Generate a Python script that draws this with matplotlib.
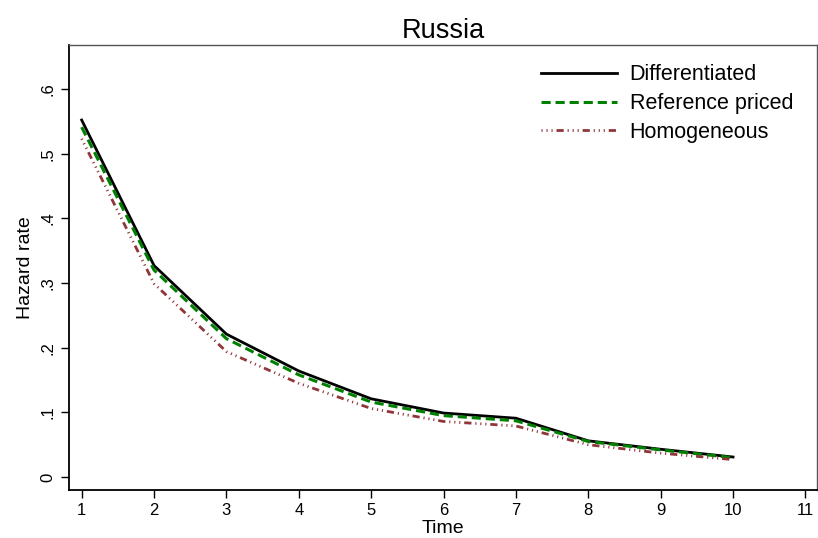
"""
Hazard rate by product type, Russia.
"""
import matplotlib
matplotlib.use('Agg')
import matplotlib.pyplot as plt

plt.rcParams['font.family'] = ['Liberation Sans', 'DejaVu Sans']

time = [1, 2, 3, 4, 5, 6, 7, 8, 9, 10]
differentiated = [0.552, 0.327, 0.221, 0.164, 0.121, 0.099, 0.091, 0.056, 0.043, 0.031]
reference_priced = [0.541, 0.320, 0.214, 0.158, 0.116, 0.095, 0.087, 0.055, 0.042, 0.030]
homogeneous = [0.523, 0.299, 0.194, 0.145, 0.106, 0.086, 0.079, 0.050, 0.037, 0.027]

x_ticks = list(range(1, 12))
y_ticks = [0, 0.1, 0.2, 0.3, 0.4, 0.5, 0.6]
y_tick_labels = ['0', '.1', '.2', '.3', '.4', '.5', '.6']

fig = plt.figure(figsize=(8.18, 5.38), dpi=100)
ax = fig.add_axes([69 / 818, 1 - 490 / 538, (817 - 69) / 818, (490 - 45) / 538])

ax.plot(time, differentiated, color='black', linewidth=2.0,
        label='Differentiated')
ax.plot(time, reference_priced, color='#008000', linewidth=2.2,
        linestyle=(0, (3, 1.6)), label='Reference priced')
ax.plot(time, homogeneous, color='#903539', linewidth=2.0,
        linestyle=(0, (0.4, 1.4, 0.4, 1.4, 0.4, 1.4, 2.6, 1.4)),
        label='Homogeneous')

ax.set_xlim(0.825, 11.16)
ax.set_ylim(-0.02, 0.668)
ax.set_xticks(x_ticks)
ax.set_yticks(y_ticks)
ax.set_yticklabels(y_tick_labels, rotation=90, va='center')
ax.tick_params(axis='both', direction='out', length=6, width=1,
               labelsize=12, colors='black')

for side in ['left', 'bottom']:
    ax.spines[side].set_color('black')
    ax.spines[side].set_linewidth(1.3)
for side in ['top', 'right']:
    ax.spines[side].set_color('#555555')
    ax.spines[side].set_linewidth(1.0)

ax.set_xlabel('Time', fontsize=14, labelpad=1)
ax.set_ylabel('Hazard rate', fontsize=14, labelpad=5)
ax.set_title('Russia', fontsize=19.5, pad=5)

ax.legend(loc='upper right', bbox_to_anchor=(0.994, 1.0), frameon=False,
          fontsize=15.5, handlelength=3.5, handletextpad=0.6, labelspacing=0.36)

fig.savefig('out.png', dpi=100)
plt.close(fig)
